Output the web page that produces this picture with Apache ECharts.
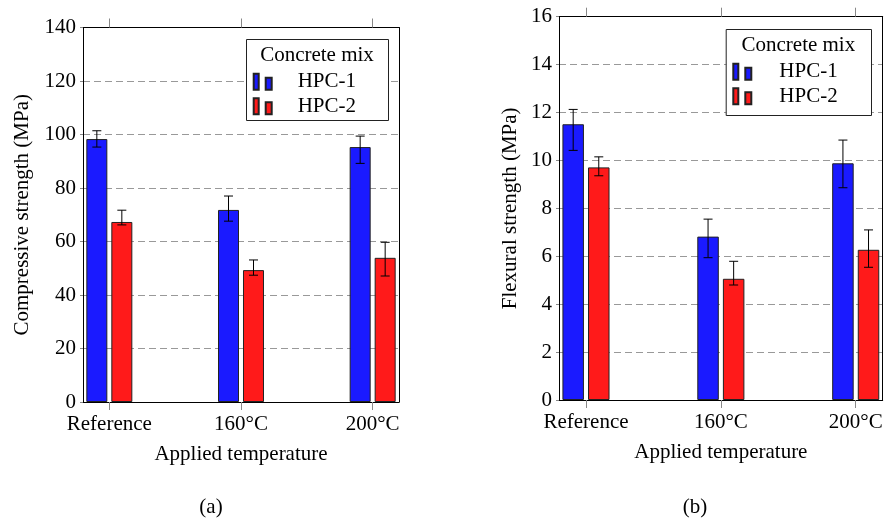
<!DOCTYPE html>
<html>
<head>
<meta charset="utf-8">
<script src="https://cdn.jsdelivr.net/npm/echarts@6/dist/echarts.min.js"></script>
<style>
html,body{margin:0;padding:0;background:#fff;}
#chart{width:887px;height:518px;}
</style>
</head>
<body>
<div id="chart"></div>
<script>
// ---- data ----
const categories = ['Reference', '160°C', '200°C'];
const seriesNames = ['HPC-1', 'HPC-2'];
const legendTitle = 'Concrete mix';
const xAxisTitle = 'Applied temperature';
const compTitle = 'Compressive strength (MPa)';
const flexTitle = 'Flexural strength (MPa)';
const captions = ['(a)', '(b)'];

// Compressive strength (MPa)
const compHPC1   = [98.3, 71.8, 95.3];
const compHPC1Lo = [95.3, 67.6, 89.2];
const compHPC1Hi = [101.4, 77.0, 99.4];
const compHPC2   = [67.3, 49.3, 53.9];
const compHPC2Lo = [66.2, 47.4, 47.1];
const compHPC2Hi = [71.7, 53.1, 59.7];

// Flexural strength (MPa)
const flexHPC1   = [11.51, 6.82, 9.88];
const flexHPC1Lo = [10.42, 5.94, 8.86];
const flexHPC1Hi = [12.13, 7.55, 10.85];
const flexHPC2   = [9.71, 5.06, 6.27];
const flexHPC2Lo = [9.36, 4.80, 5.54];
const flexHPC2Hi = [10.15, 5.79, 7.10];

// axis ranges
const compMax = 140, compStep = 20;
const flexMax = 16, flexStep = 2;

// ---- styles ----
const FONT = 'Liberation Serif';
const FS = 21;
const BLUE = '#1a1aff';
const RED = '#ff1a1a';
const GRIDC = '#999';
const TICKC = '#888';
const catIdx = categories.map((c, i) => i);

const chart = echarts.init(document.getElementById('chart'));

function pairs(vals) { return vals.map((v, i) => [i, v]); }
function errData(lo, hi) { return lo.map((v, i) => [i, v, hi[i]]); }

function xAxesFor(g, name, nameGap) {
  return [{
    type: 'value', gridIndex: g, min: -0.2, max: 2.2, position: 'bottom',
    name: name, nameLocation: 'middle', nameGap: nameGap,
    nameTextStyle: { fontFamily: FONT, fontSize: FS, color: '#000' },
    axisLine: { show: true, onZero: false, lineStyle: { color: '#000', width: 1 } },
    axisTick: { show: true, inside: false, length: 8, customValues: catIdx, lineStyle: { color: TICKC } },
    axisLabel: { show: true, customValues: catIdx, margin: 12, fontFamily: FONT, fontSize: FS, color: '#000',
      formatter: v => categories[Math.round(v)] },
    splitLine: { show: false }
  }, {
    type: 'value', gridIndex: g, min: -0.2, max: 2.2, position: 'top',
    axisLine: { show: true, onZero: false, lineStyle: { color: '#000', width: 1 } },
    axisTick: { show: true, inside: false, length: 9, customValues: catIdx, lineStyle: { color: TICKC } },
    axisLabel: { show: false },
    splitLine: { show: false }
  }];
}

function yAxesFor(g, max, step, name, nameGap) {
  return [{
    type: 'value', gridIndex: g, min: 0, max: max, interval: step, position: 'left',
    name: name, nameLocation: 'middle', nameGap: nameGap,
    nameTextStyle: { fontFamily: FONT, fontSize: FS, color: '#000' },
    axisLine: { show: true, onZero: false, lineStyle: { color: '#000', width: 1 } },
    axisTick: { show: true, inside: false, length: 3, lineStyle: { color: TICKC } },
    axisLabel: { margin: 7, fontFamily: FONT, fontSize: FS, color: '#000' },
    splitLine: { show: true, lineStyle: { color: GRIDC, type: [7, 4], width: 1 } }
  }, {
    type: 'value', gridIndex: g, min: 0, max: max, interval: step, position: 'right',
    axisLine: { show: true, onZero: false, lineStyle: { color: '#000', width: 1 } },
    axisTick: { show: false }, axisLabel: { show: false }, splitLine: { show: false }
  }];
}

function barSeries(name, vals, color, xi, yi, bw) {
  return {
    type: 'bar', name: name, data: pairs(vals), xAxisIndex: xi, yAxisIndex: yi,
    barWidth: bw, barGap: '19%',
    itemStyle: { color: color, borderColor: '#222', borderWidth: 1 },
    z: 2
  };
}

function errSeries(lo, hi, xi, yi, offset) {
  return {
    type: 'custom', xAxisIndex: xi, yAxisIndex: yi, data: errData(lo, hi), z: 5,
    encode: { x: 0, y: [1, 2] },
    renderItem: function (params, api) {
      const x = api.value(0);
      const top = api.coord([x, api.value(2)]);
      const bot = api.coord([x, api.value(1)]);
      const cx = top[0] + offset;
      const cap = 4.5;
      const st = { stroke: '#000', lineWidth: 1 };
      return {
        type: 'group', children: [
          { type: 'line', shape: { x1: cx, y1: top[1], x2: cx, y2: bot[1] }, style: st },
          { type: 'line', shape: { x1: cx - cap, y1: top[1], x2: cx + cap, y2: top[1] }, style: st },
          { type: 'line', shape: { x1: cx - cap, y1: bot[1], x2: cx + cap, y2: bot[1] }, style: st }
        ]
      };
    }
  };
}

const ICON = 'path://M0,0h5v16h-5z M12,4h6v12h-6z';

function legendFor(left, top, padLeft) {
  return {
    orient: 'vertical', left: left, top: top, padding: 0, itemGap: 0, z: 20,
    itemWidth: 18, itemHeight: 16, icon: ICON, data: seriesNames,
    selectedMode: false,
    textStyle: { fontFamily: FONT, fontSize: FS, color: '#000', lineHeight: 24.5, padding: [0, 0, 0, padLeft] }
  };
}

function legendBox(x, y, w, h, titleY) {
  return [{
    type: 'rect', left: x, top: y, shape: { width: w, height: h },
    style: { fill: '#fff', stroke: '#222', lineWidth: 1 }, z: 8
  }, {
    type: 'text', x: x + w / 2, y: titleY,
    style: { text: legendTitle, font: FS + 'px "' + FONT + '"', fill: '#000', align: 'center', verticalAlign: 'middle' }, z: 9
  }];
}

const option = {
  animation: false,
  backgroundColor: '#fff',
  grid: [
    { left: 83, top: 27.5, width: 316, height: 374.5 },
    { left: 559, top: 16.7, width: 323.7, height: 383.3 }
  ],
  xAxis: [].concat(xAxesFor(0, xAxisTitle, 42), xAxesFor(1, xAxisTitle, 42)),
  yAxis: [].concat(yAxesFor(0, compMax, compStep, compTitle, 50), yAxesFor(1, flexMax, flexStep, flexTitle, 38)),
  legend: [ legendFor(252.7, 69.5, 21), legendFor(732.3, 59.5, 23) ],
  series: [
    barSeries(seriesNames[0], compHPC1, BLUE, 0, 0, 21),
    barSeries(seriesNames[1], compHPC2, RED, 0, 0, 21),
    errSeries(compHPC1Lo, compHPC1Hi, 0, 0, -12.5),
    errSeries(compHPC2Lo, compHPC2Hi, 0, 0, 12.5),
    barSeries(seriesNames[0], flexHPC1, BLUE, 2, 2, 21.5),
    barSeries(seriesNames[1], flexHPC2, RED, 2, 2, 21.5),
    errSeries(flexHPC1Lo, flexHPC1Hi, 2, 2, -12.8),
    errSeries(flexHPC2Lo, flexHPC2Hi, 2, 2, 12.8)
  ],
  graphic: [].concat(
    legendBox(246, 39, 142, 81, 55),
    legendBox(725.7, 29, 145.3, 86, 45),
    [
      { type: 'text', x: 211, y: 507, style: { text: captions[0], font: FS + 'px "' + FONT + '"', fill: '#000', align: 'center', verticalAlign: 'middle' } },
      { type: 'text', x: 695, y: 507, style: { text: captions[1], font: FS + 'px "' + FONT + '"', fill: '#000', align: 'center', verticalAlign: 'middle' } }
    ]
  )
};
chart.setOption(option);
</script>
</body>
</html>
